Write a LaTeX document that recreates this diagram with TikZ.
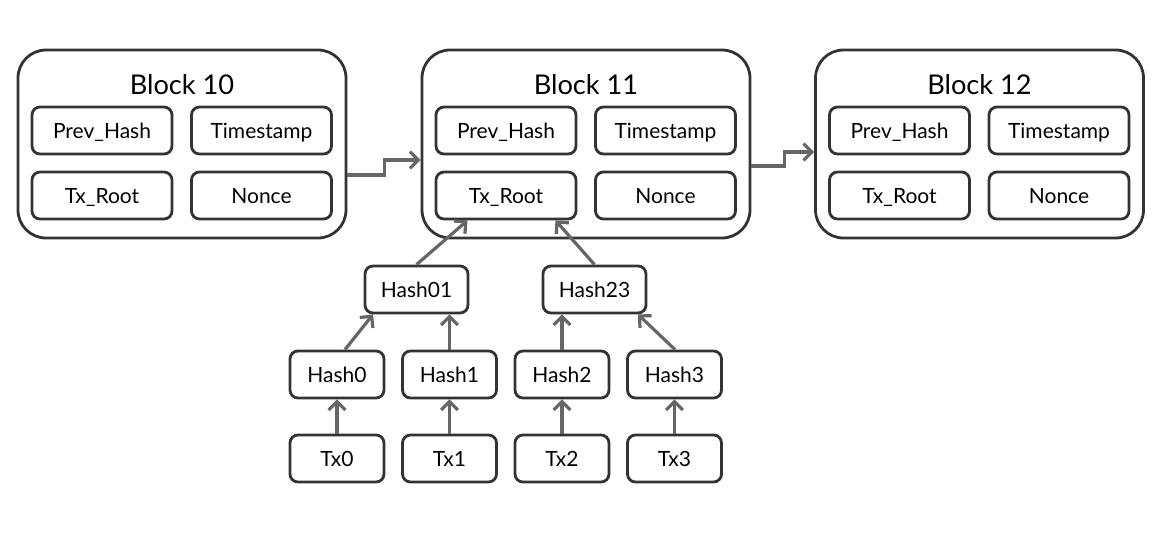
\documentclass[tikz,border=0pt]{standalone}
\usepackage{fontspec}
\setmainfont{Lato}
\usetikzlibrary{arrows.meta,positioning}
\definecolor{trait}{HTML}{333333}
\definecolor{fleche}{HTML}{666666}

\begin{document}
\begin{tikzpicture}[x=0.5pt,y=-0.5pt]
\tikzset{bloc/.style={draw=trait, line width=1.4pt, rounded corners=14pt, minimum width=164pt, minimum height=94pt, inner sep=0pt}}
\tikzset{champ/.style={draw=trait, line width=1.4pt, rounded corners=4pt, minimum width=70pt, minimum height=23.5pt, inner sep=0pt, text height=7.6pt, text depth=0pt, font=\fontsize{10.5}{12}\selectfont}}
\tikzset{feuille/.style={champ, minimum width=47pt}}
\tikzset{noeud/.style={champ, minimum width=51.5pt}}
\tikzset{lien/.style={draw=fleche, line width=1.6pt, -{Straight Barb[length=4.2pt,width=8.4pt]}}}
\useasboundingbox (0,0) rectangle (1158,541);
% blocs de la chaine
\foreach \n/\x in {10/182,11/586,12/979.5}{
\node[bloc] (b\n) at (\x,144) {};
\node[font=\fontsize{13.6}{16}\selectfont, text height=10pt, text depth=0pt] (t\n) at (\x,84) {Block \n};
\node[champ] (prev\n) at (\x-80,130.5) {Prev\_Hash};
\node[champ] (time\n) at (\x+79.5,130.5) {Timestamp};
\node[champ] (root\n) at (\x-80,195.5) {Tx\_Root};
\node[champ] (nonce\n) at (\x+79.5,195.5) {Nonce};
}
% arbre de Merkle
\node[noeud] (h01) at (416.5,289.5) {Hash01};
\node[noeud] (h23) at (594.5,289.5) {Hash23};
\foreach \i/\x in {0/337,1/449.5,2/562,3/674.5}{
\node[feuille] (h\i) at (\x,374.5) {Hash\i};
\node[feuille] (tx\i) at (\x,458.5) {Tx\i};
\draw[lien] (tx\i) -- (h\i);
}
\draw[lien] ([xshift=4pt]h0.north) -- ([xshift=-21.75pt]h01.south);
\draw[lien] (h1.north) -- (h1.north |- h01.south);
\draw[lien] (h2.north) -- (h2.north |- h23.south);
\draw[lien] ([xshift=0.25pt]h3.north) -- ([xshift=21.75pt]h23.south);
\draw[lien] (h01.north) -- ([xshift=-19.25pt]root11.south);
\draw[lien] (h23.north) -- ([xshift=24.75pt]root11.south);
% liens entre blocs
\draw[lien] ([yshift=-15.5pt]b10.east) -- ++(18.5pt,0) |- ([yshift=-8pt]b11.west);
\draw[lien] ([yshift=-11pt]b11.east) -- ++(16.5pt,0) |- ([yshift=-4pt]b12.west);
\end{tikzpicture}
\end{document}
